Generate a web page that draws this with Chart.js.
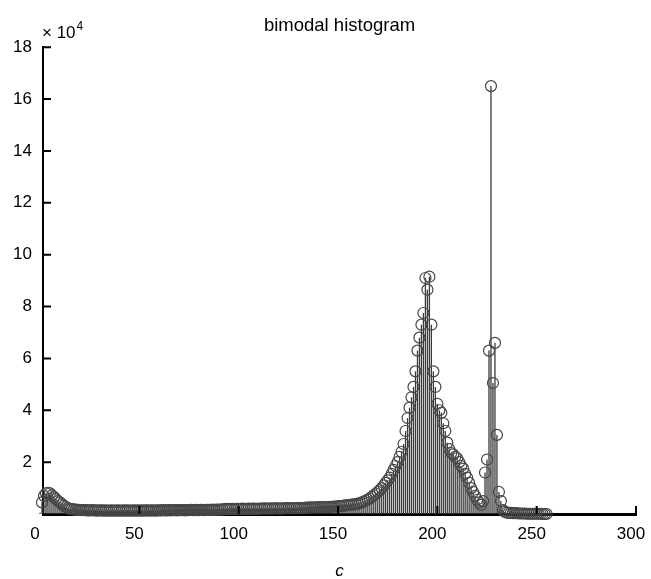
<!DOCTYPE html>
<html>
<head>
<meta charset="utf-8">
<title>bimodal histogram</title>
<script src="https://cdn.jsdelivr.net/npm/chart.js@4.4.1/dist/chart.umd.min.js"></script>
<style>
  html, body { margin: 0; padding: 0; background: #fff; }
</style>
</head>
<body>
<canvas id="histChart" width="651" height="579"></canvas>
<script>
// histogram counts per grey level c = 0..255, in units of 10^4
const counts = [
  0.05, 0.45, 0.7, 0.8, 0.82, 0.8, 0.72, 0.65, 0.58, 0.5, 0.45, 0.38, 0.32, 0.27, 0.23, 0.2,
  0.19, 0.18, 0.17, 0.16, 0.16, 0.15, 0.15, 0.15, 0.14, 0.14, 0.15, 0.14, 0.14, 0.13, 0.14, 0.14,
  0.13, 0.14, 0.13, 0.13, 0.14, 0.13, 0.13, 0.14, 0.13, 0.13, 0.14, 0.13, 0.14, 0.13, 0.13, 0.14,
  0.13, 0.14, 0.13, 0.14, 0.13, 0.14, 0.14, 0.13, 0.14, 0.14, 0.13, 0.14, 0.14, 0.14, 0.15, 0.14,
  0.14, 0.15, 0.14, 0.15, 0.15, 0.14, 0.15, 0.15, 0.15, 0.14, 0.15, 0.15, 0.16, 0.15, 0.15, 0.16,
  0.15, 0.16, 0.16, 0.15, 0.16, 0.16, 0.16, 0.17, 0.16, 0.17, 0.17, 0.17, 0.18, 0.19, 0.2, 0.19,
  0.2, 0.2, 0.19, 0.2, 0.2, 0.2, 0.21, 0.2, 0.2, 0.21, 0.2, 0.21, 0.21, 0.2, 0.21, 0.21,
  0.21, 0.22, 0.21, 0.21, 0.22, 0.21, 0.22, 0.22, 0.22, 0.21, 0.22, 0.22, 0.23, 0.22, 0.22, 0.23,
  0.23, 0.22, 0.23, 0.23, 0.23, 0.24, 0.25, 0.25, 0.26, 0.25, 0.26, 0.26, 0.27, 0.26, 0.27, 0.27,
  0.27, 0.27, 0.28, 0.28, 0.29, 0.29, 0.3, 0.3, 0.31, 0.32, 0.33, 0.34, 0.35, 0.36, 0.37, 0.38,
  0.4, 0.42, 0.45, 0.48, 0.52, 0.56, 0.6, 0.66, 0.72, 0.78, 0.85, 0.92, 1.0, 1.1, 1.2, 1.3,
  1.4, 1.55, 1.7, 1.85, 2.0, 2.2, 2.4, 2.7, 3.2, 3.7, 4.1, 4.5, 4.9, 5.5, 6.3, 6.8,
  7.3, 7.75, 9.1, 8.65, 9.15, 7.3, 5.5, 4.9, 4.25, 4.0, 3.9, 3.5, 3.2, 2.75, 2.5, 2.35,
  2.3, 2.2, 2.15, 2.0, 1.85, 1.75, 1.55, 1.4, 1.2, 1.0, 0.85, 0.7, 0.55, 0.45, 0.35, 0.5,
  1.6, 2.1, 6.3, 16.5, 5.05, 6.6, 3.05, 0.85, 0.5, 0.15, 0.08, 0.05, 0.04, 0.04, 0.03, 0.03,
  0.03, 0.02, 0.02, 0.02, 0.02, 0.01, 0.01, 0.01, 0.01, 0.01, 0.01, 0.01, 0.01, 0.0, 0.0, 0.0
];

// axis tick labels
const xTicks = [0, 50, 100, 150, 200, 250, 300];
const yTicks = [2, 4, 6, 8, 10, 12, 14, 16, 18];

const FONT = "'Liberation Sans', Arial, Helvetica, sans-serif";
const stemColor = '#3a3a3a';
const markerColor = '#464646';

Chart.defaults.font.family = FONT;
Chart.defaults.color = '#000';

// grey level c is the index into counts
const stemPoints = counts.map((v, c) => ({ x: c, y: v }));

// inward tick marks and the "x 10^4" multiplier
const axisMarks = {
  id: 'axisMarks',
  afterDraw(chart) {
    const { ctx, chartArea, scales } = chart;
    ctx.save();
    ctx.strokeStyle = '#000';
    ctx.lineWidth = 2;
    ctx.beginPath();
    yTicks.forEach((v) => {
      const y = scales.y.getPixelForValue(v);
      ctx.moveTo(chartArea.left, y);
      ctx.lineTo(chartArea.left + 8, y);
    });
    xTicks.forEach((v) => {
      if (v === 0) return;
      const x = scales.x.getPixelForValue(v);
      ctx.moveTo(x, chartArea.bottom);
      ctx.lineTo(x, chartArea.bottom - 8);
    });
    ctx.stroke();

    ctx.fillStyle = '#000';
    ctx.textBaseline = 'alphabetic';
    ctx.textAlign = 'left';
    ctx.font = '17px ' + FONT;
    ctx.fillText('\u00d7 10', chartArea.left - 1, chartArea.top - 9);
    const w = ctx.measureText('\u00d7 10').width;
    ctx.font = '12px ' + FONT;
    ctx.fillText('4', chartArea.left - 1 + w + 1, chartArea.top - 17);
    ctx.restore();
  }
};

new Chart(document.getElementById('histChart'), {
  type: 'scatter',
  data: {
    datasets: [
      {
        type: 'bar',
        data: stemPoints,
        backgroundColor: stemColor,
        borderWidth: 0,
        barThickness: 1.3,
        inflateAmount: 0,
        clip: false,
        order: 2,
      },
      {
        type: 'scatter',
        data: stemPoints,
        pointStyle: 'circle',
        pointRadius: 5.5,
        pointBorderWidth: 1.2,
        pointBorderColor: markerColor,
        pointBackgroundColor: 'rgba(0,0,0,0)',
        clip: false,
        order: 1,
      },
    ],
  },
  options: {
    responsive: false,
    animation: false,
    events: [],
    layout: { padding: { top: 0, left: 0, right: 15, bottom: 0 } },
    plugins: {
      legend: { display: false },
      tooltip: { enabled: false },
      title: {
        display: true,
        fullSize: false,
        text: 'bimodal histogram',
        color: '#000',
        font: { size: 18.5, weight: 'normal' },
        padding: { top: 15, bottom: 10 },
      },
    },
    scales: {
      x: {
        type: 'linear',
        min: 1.5,
        max: 300,
        offset: false,
        z: 1,
        afterBuildTicks: (s) => { s.ticks = xTicks.map((v) => ({ value: v })); },
        afterFit: (s) => { s.height = 65; s.paddingLeft = 0; s.paddingRight = 0; },
        ticks: { font: { size: 17 }, padding: 10, labelOffset: -5, maxRotation: 0, autoSkip: false },
        grid: { display: false, drawTicks: false },
        border: { display: true, color: '#000', width: 3 },
        title: {
          display: true,
          text: 'c',
          color: '#000',
          font: { size: 17, style: 'italic' },
          padding: { top: 0, bottom: -2 },
        },
      },
      y: {
        type: 'linear',
        min: 0,
        max: 18,
        z: 1,
        afterBuildTicks: (s) => { s.ticks = yTicks.map((v) => ({ value: v })); },
        afterFit: (s) => { s.width = 43; },
        ticks: { font: { size: 17 }, padding: 11 },
        grid: { display: false, drawTicks: false },
        border: { display: true, color: '#000', width: 2 },
      },
    },
  },
  plugins: [axisMarks],
});
</script>
</body>
</html>
